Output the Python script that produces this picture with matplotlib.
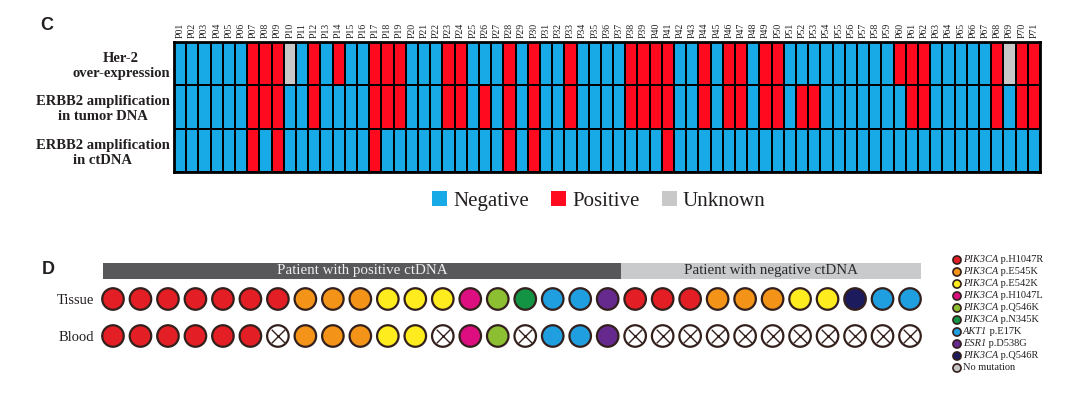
import numpy as np
import matplotlib
matplotlib.use("Agg")
import matplotlib.pyplot as plt
from matplotlib.colors import ListedColormap
from matplotlib.patches import Patch

# ---------------- data ----------------
patients = ["P%02d" % i for i in range(1, 72)]
row_labels = ["Her-2\nover-expression",
              "ERBB2 amplification\nin tumor DNA",
              "ERBB2 amplification\nin ctDNA"]
# N = negative, P = positive, U = unknown
her2_status  = "NNNNNN" "PPPUNPNPNNPPPNNNPP" "NNNPNPNNPNNNNPPPPNNPNPPN" "PPNNNNNNNNNPPPNNNNNPUPP"
tumor_status = "NNNNNN" "PPPNNPNNNNPPPNNNPP" "NPNPNPNNPNNNNPPPPNNPNPPN" "PPNPPNNNNNNNPPNNNNNPNPP"
ctdna_status = "NNNNNN" "PNPNNNNNNNPNNNNNNN" "NNNPNPNNNNNNNNNNPNNNNNNN" "NNNNNNNNNNNNNNNNNNNNNNN"
status_names = ["Negative", "Positive", "Unknown"]

group_labels = ["Patient with positive ctDNA", "Patient with negative ctDNA"]
group_sizes = [19, 11]
tissue_mut = ["H1047R", "H1047R", "H1047R", "H1047R", "H1047R", "H1047R", "H1047R",
              "E545K", "E545K", "E545K", "E542K", "E542K", "E542K",
              "H1047L", "Q546K", "N345K", "E17K", "E17K", "D538G",
              "H1047R", "H1047R", "H1047R", "E545K", "E545K", "E545K",
              "E542K", "E542K", "Q546R", "E17K", "E17K"]
blood_mut = ["H1047R", "H1047R", "H1047R", "H1047R", "H1047R", "H1047R", "none",
             "E545K", "E545K", "E545K", "E542K", "E542K", "none",
             "H1047L", "Q546K", "none", "E17K", "E17K", "D538G",
             "none", "none", "none", "none", "none", "none",
             "none", "none", "none", "none", "none"]
mut_keys = ["H1047R", "E545K", "E542K", "H1047L", "Q546K", "N345K", "E17K", "D538G", "Q546R", "none"]
mut_genes = ["PIK3CA", "PIK3CA", "PIK3CA", "PIK3CA", "PIK3CA", "PIK3CA", "AKT1", "ESR1", "PIK3CA", ""]
mut_labels = ["p.H1047R", "p.E545K", "p.E542K", "p.H1047L", "p.Q546K", "p.N345K",
              "p.E17K", "p.D538G", "p.Q546R", "No mutation"]
mut_colors = ["#E31E24", "#F39419", "#FFEC1F", "#DD0F80", "#8CC032", "#139445",
              "#209FE0", "#662A8E", "#1B1B5E", "#FFFFFF"]
legend_none_color = "#C4C4C4"

# ---------------- style ----------------
W, H = 1080, 393
TXT = "#231F20"
EDGE = "#33201C"
SERIF = ["Liberation Serif", "DejaVu Serif"]
SANS = ["Liberation Sans", "DejaVu Sans"]
heat_colors = ["#18A9E7", "#FF0A1E", "#C8C8C8"]

fig = plt.figure(figsize=(W / 100, H / 100), dpi=100)


def ax_px(l, t, r, b):
    return fig.add_axes([l / W, 1 - b / H, (r - l) / W, (b - t) / H])


# ---------------- panel C: heatmap ----------------
code = {"N": 0, "P": 1, "U": 2}
M = np.array([[code[c] for c in s] for s in (her2_status, tumor_status, ctdna_status)])
ax = ax_px(174, 42, 1040, 172)
ax.pcolormesh(np.arange(M.shape[1] + 1), np.arange(M.shape[0] + 1), M,
              cmap=ListedColormap(heat_colors), vmin=-0.5, vmax=2.5,
              edgecolors="black", linewidth=1.4)
ax.set_xlim(0, M.shape[1])
ax.set_ylim(M.shape[0], 0)
ax.xaxis.tick_top()
ax.set_xticks(np.arange(M.shape[1]) + 0.5)
ax.set_xticklabels(patients, rotation=90, fontsize=7, family=SERIF, color=TXT)
ax.set_yticks(np.arange(M.shape[0]) + 0.5)
ax.set_yticklabels(row_labels, fontsize=10.5, family=SERIF, fontweight="bold",
                   color=TXT, multialignment="center")
ax.tick_params(length=0, pad=3)
ax.tick_params(axis="x", pad=3)
for sp in ax.spines.values():
    sp.set_linewidth(2)

fig.text(40 / W, 1 - 26 / H, "C", fontsize=13, fontweight="bold", family=SANS,
         va="center", ha="left", color=TXT)

fig.legend(handles=[Patch(facecolor=c, edgecolor="none", label=n)
                    for c, n in zip(heat_colors, status_names)],
           loc="center", bbox_to_anchor=(599 / W, 1 - 201 / H), ncol=3, frameon=False,
           prop=dict(family=SERIF, size=15), handlelength=0.72, handleheight=0.7,
           handletextpad=0.3, columnspacing=1.05, labelcolor=TXT)

# ---------------- panel D: mutations ----------------
color_of = dict(zip(mut_keys, mut_colors))
n = len(tissue_mut)
ax2 = ax_px(99.25, 254.6, 923.75, 354.5)
ax2.set_xlim(-0.5, n - 0.5)
ax2.set_ylim(1.5, -1.2)

bar_y, bar_h = -0.757, 0.43
b1 = group_sizes[0] - 0.5
ax2.barh(bar_y, b1 + 0.37, left=-0.37, height=bar_h, color="#58585A")
ax2.barh(bar_y, sum(group_sizes) - 0.6 - b1, left=b1, height=bar_h, color="#C9CACB")
ax2.text((b1 - 0.37) / 2, bar_y, group_labels[0], ha="center", va="center",
         family=SERIF, fontsize=10.8, color="#EEEEEE")
ax2.text((b1 + sum(group_sizes) - 0.6) / 2, bar_y, group_labels[1], ha="center", va="center",
         family=SERIF, fontsize=10.8, color="#2A2A2A")

for row, muts in enumerate([tissue_mut, blood_mut]):
    xs = np.arange(len(muts))
    ax2.scatter(xs, [row] * len(muts), s=240, c=[color_of[m] for m in muts],
                edgecolors=EDGE, linewidths=1.6, zorder=3)
    none_x = [i for i, m in enumerate(muts) if m == "none"]
    ax2.scatter(none_x, [row] * len(none_x), s=95, marker="x", c=EDGE,
                linewidths=1.0, zorder=4)

ax2.set_yticks([0, 1])
ax2.set_yticklabels(["Tissue", "Blood"], family=SERIF, fontsize=10.5, color=TXT)
ax2.set_xticks([])
ax2.tick_params(length=0, pad=4)
for sp in ax2.spines.values():
    sp.set_visible(False)
ax2.patch.set_alpha(0)

fig.text(42 / W, 1 - 269 / H, "D", fontsize=13, fontweight="bold", family=SANS,
         va="center", ha="left", color=TXT)

# right legend
ax3 = ax_px(945, 254, 1080, 374)
ax3.set_xlim(0, 135)
ax3.set_ylim(len(mut_keys) - 0.5, -0.5)
ax3.axis("off")
leg_colors = mut_colors[:-1] + [legend_none_color]
ax3.scatter([12] * len(mut_keys), np.arange(len(mut_keys)), s=34, c=leg_colors,
            edgecolors=EDGE, linewidths=1.2)
for i, (g, lab) in enumerate(zip(mut_genes, mut_labels)):
    if g:
        t = ax3.text(18, i, g, fontsize=7.5, family=SERIF, style="italic",
                     va="center", ha="left", color=TXT)
        ax3.annotate(" " + lab, xy=(1, 0), xycoords=t, va="bottom", ha="left",
                     fontsize=7.5, family=SERIF, color=TXT)
    else:
        ax3.text(18, i, lab, fontsize=7.5, family=SERIF, va="center", ha="left", color=TXT)

fig.savefig("out.png", dpi=100)
